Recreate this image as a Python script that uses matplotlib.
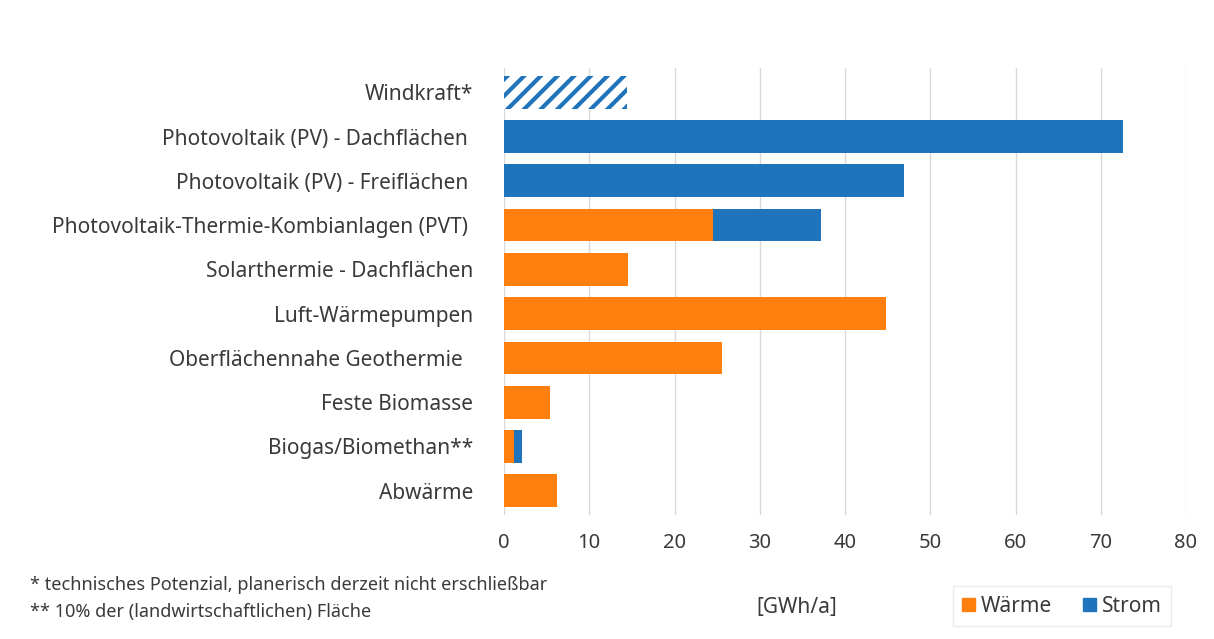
import matplotlib
matplotlib.use("Agg")
import matplotlib.pyplot as plt
from matplotlib.patches import Patch

# Potenziale je Technologie in GWh/a
categories = [
    "Windkraft*",
    "Photovoltaik (PV) - Dachflächen ",
    "Photovoltaik (PV) - Freiflächen ",
    "Photovoltaik-Thermie-Kombianlagen (PVT) ",
    "Solarthermie - Dachflächen",
    "Luft-Wärmepumpen",
    "Oberflächennahe Geothermie  ",
    "Feste Biomasse",
    "Biogas/Biomethan**",
    "Abwärme",
]
waerme = [0, 0, 0, 24.5, 14.5, 44.8, 25.6, 5.4, 1.2, 6.2]
strom = [14.4, 72.6, 46.9, 12.7, 0, 0, 0, 0, 0.9, 0]
hatched = [True, False, False, False, False, False, False, False, False, False]
xticks = [0, 10, 20, 30, 40, 50, 60, 70, 80]

orange = "#ff7f0e"
blue = "#1f74bb"
text_col = "#3a3a3a"

plt.rcParams["font.family"] = ["Noto Sans", "DejaVu Sans"]
plt.rcParams["hatch.linewidth"] = 3.0

fig = plt.figure(figsize=(12.14, 6.39), dpi=100)
ax = fig.add_axes([504 / 1214, 1 - 515 / 639, 682 / 1214, 447 / 639])

y = list(range(len(categories)))
h = 0.74
for i in y:
    if waerme[i] > 0:
        ax.barh(i, waerme[i], height=h, color=orange, linewidth=0, zorder=3)
    if strom[i] > 0:
        if hatched[i]:
            ax.barh(i, strom[i], left=waerme[i], height=h, color="white",
                    edgecolor=blue, hatch="//", linewidth=0, zorder=3)
        else:
            ax.barh(i, strom[i], left=waerme[i], height=h, color=blue,
                    linewidth=0, zorder=3)

ax.set_xlim(0, 80)
ax.set_ylim(len(categories) - 0.45, -0.55)
ax.set_xticks(xticks)
ax.set_yticks(y)
ax.set_yticklabels(categories, fontsize=15, color=text_col)
ax.tick_params(axis="y", length=0, pad=22)
ax.tick_params(axis="x", length=0, pad=13, labelsize=14.5, labelcolor=text_col)
ax.grid(axis="x", color="#d9d9d9", linewidth=1, zorder=0)
for s in ax.spines.values():
    s.set_visible(False)

# footnotes and unit
fig.text(30 / 1214, 1 - 585 / 639, "* technisches Potenzial, planerisch derzeit nicht erschließbar",
         fontsize=13, color=text_col, va="center")
fig.text(30 / 1214, 1 - 612 / 639, "** 10% der (landwirtschaftlichen) Fläche",
         fontsize=13, color=text_col, va="center")
fig.text(797 / 1214, 1 - 608 / 639, "[GWh/a]", fontsize=15, color=text_col,
         ha="center", va="center")

handles = [Patch(color=orange, label="Wärme"), Patch(color=blue, label="Strom")]
leg = fig.legend(handles=handles, loc="center", ncol=2,
                 bbox_to_anchor=(1062 / 1214, 1 - 606 / 639), fontsize=15,
                 frameon=True, fancybox=False, edgecolor="#e6e6e6",
                 handlelength=0.6, handleheight=0.6, handletextpad=0.3,
                 columnspacing=1.5, borderpad=0.45)
for t in leg.get_texts():
    t.set_color(text_col)

fig.savefig("out.png", dpi=100, facecolor="white")
